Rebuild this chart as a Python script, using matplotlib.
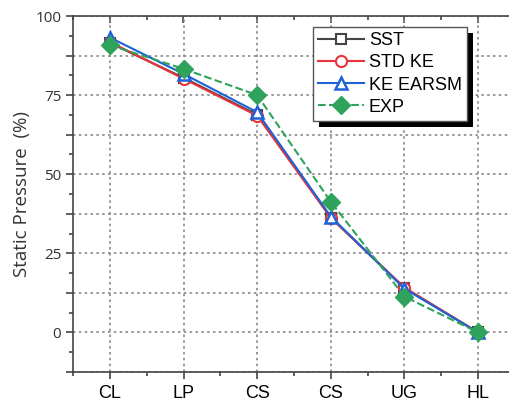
import numpy as np
import matplotlib
matplotlib.use("Agg")
import matplotlib.pyplot as plt
from matplotlib.ticker import MultipleLocator, FuncFormatter
from matplotlib.patches import Rectangle

categories = ["CL", "LP", "CS", "CS", "UG", "HL"]
sst = [91.5, 80.5, 68.8, 36.3, 14.0, 0.0]
std_ke = [91.8, 80.2, 68.5, 36.2, 14.2, 0.0]
ke_earsm = [93.2, 81.7, 69.6, 36.6, 13.8, 0.0]
exp = [90.8, 83.3, 75.0, 41.3, 11.3, 0.0]

plt.rcParams['font.family'] = ['Liberation Sans', 'DejaVu Sans']

fig = plt.figure(figsize=(5.09, 4.07), dpi=100)
ax = fig.add_axes([73 / 509, 35 / 407, 442 / 509, 356 / 407])

x = np.arange(1, len(categories) + 1)
ax.plot(x, sst, color="#454545", lw=1.5, marker="s", ms=7, mfc="white", mec="#454545", mew=1.5, label="SST")
ax.plot(x, std_ke, color="#e8333a", lw=1.5, marker="o", ms=8, mfc="white", mec="#e8333a", mew=1.5, label="STD KE")
ax.plot(x, ke_earsm, color="#1f62d8", lw=1.5, marker="^", ms=9, mfc="white", mec="#1f62d8", mew=1.8, label="KE EARSM")
ax.plot(x, exp, color="#2fa35c", lw=1.5, ls="--", marker="D", ms=9.5, mfc="#2fa35c", mec="#2fa35c", label="EXP")

ax.set_xlim(0.5, 6.5)
ax.set_ylim(-12.5, 100)
ax.set_xticks(x)
ax.set_xticklabels(categories, fontsize=13)
ax.xaxis.set_minor_locator(MultipleLocator(0.5))
ax.yaxis.set_major_locator(MultipleLocator(12.5))
ax.yaxis.set_minor_locator(MultipleLocator(6.25))
ax.yaxis.set_major_formatter(FuncFormatter(lambda v, p: "%d" % v if abs(v % 25) < 1e-6 and v >= 0 else ""))
ax.tick_params(axis="y", labelsize=11, labelcolor="#333333", length=5, width=1.2, color="#444444")
ax.tick_params(axis="y", which="minor", length=3, width=1.2, color="#444444")
ax.tick_params(axis="x", length=5, width=1.2, color="#444444", pad=4)
ax.tick_params(axis="x", which="minor", length=3, width=1.2, color="#444444")
for lab in ax.get_yticklabels():
    lab.set_family(["Open Sans", "DejaVu Sans"])
ax.set_ylabel("Static Pressure  (%)", fontsize=13.5, color="#333333", labelpad=3,
              family=["Open Sans", "DejaVu Sans"])

ax.grid(True, which="major", color="#888888", ls=(0, (1.5, 2)), lw=1.2)
for s in ["left", "bottom", "top"]:
    ax.spines[s].set_linewidth(1.2)
    ax.spines[s].set_color("#444444")
ax.spines["right"].set_visible(False)

# top mirrored ticks (inward)
secx = ax.secondary_xaxis("top")
secx.set_xticks(x)
secx.set_xticklabels([])
secx.xaxis.set_minor_locator(MultipleLocator(0.5))
secx.tick_params(direction="in", length=5, width=1.2, color="#444444")
secx.tick_params(which="minor", direction="in", length=3, width=1.2, color="#444444")
secx.spines["top"].set_visible(False)

leg = ax.legend(loc="upper left", bbox_to_anchor=(313 / 509, 1 - 27 / 407), bbox_transform=fig.transFigure,
                fontsize=13, frameon=True, fancybox=False, framealpha=1, edgecolor="#555555",
                handlelength=2.5, handletextpad=0.3, borderpad=0.3, labelspacing=0.28, borderaxespad=0)
leg.get_frame().set_linewidth(1.0)
leg.set_zorder(10)

fig.canvas.draw()
bb = leg.get_window_extent()
shadow = Rectangle((bb.x0 + 6, bb.y0 - 6), bb.width, bb.height, transform=None,
                   facecolor="black", edgecolor="none", zorder=9, clip_on=False)
ax.add_artist(shadow)

fig.savefig("out.png", dpi=100)
